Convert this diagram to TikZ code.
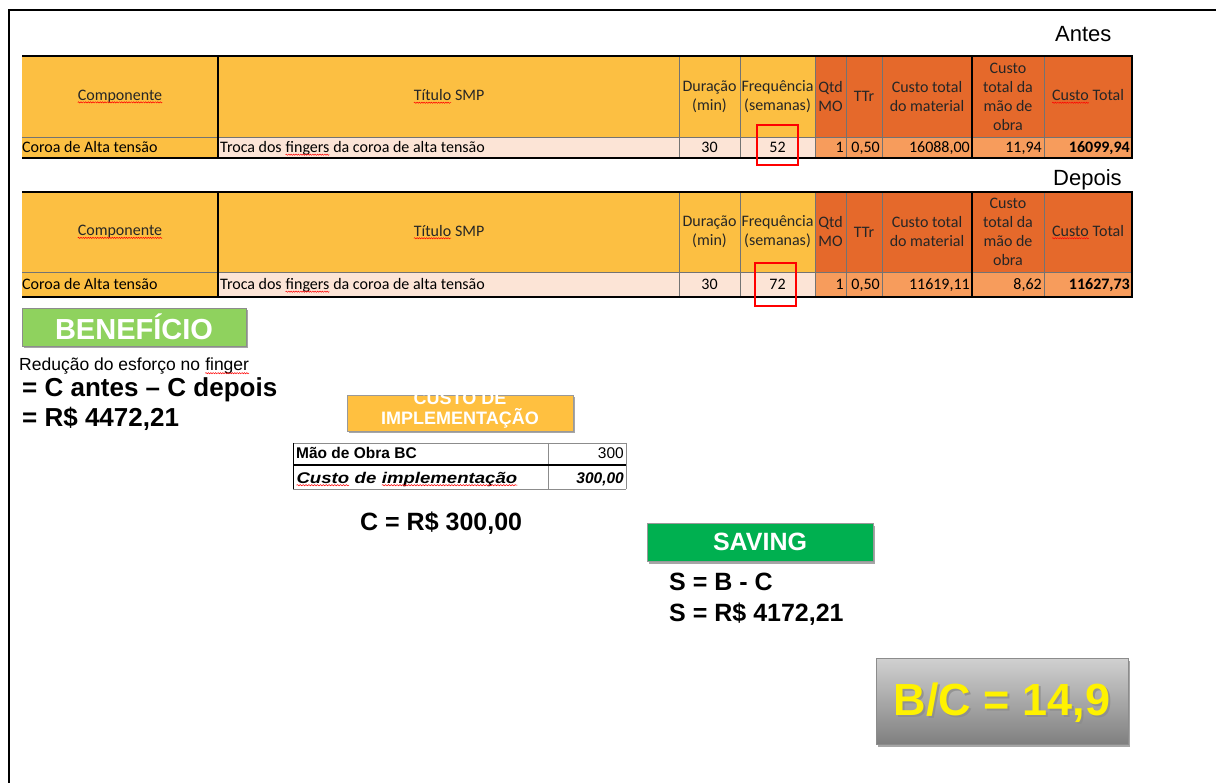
\documentclass[tikz,border=0pt]{standalone}
\usepackage{fontspec}
\usepackage{graphicx}
\setmainfont{Liberation Sans}
\newfontfamily\calfont{Carlito}
\usetikzlibrary{shadows,decorations.pathmorphing}
\definecolor{hdrY}{HTML}{FCBF42}
\definecolor{hdrO}{HTML}{E5692B}
\definecolor{rowP}{HTML}{FCE4D6}
\definecolor{rowO}{HTML}{F79C5C}
\definecolor{benG}{HTML}{8FD25E}
\definecolor{savG}{HTML}{00B050}
\definecolor{cusO}{HTML}{FFC040}
\newcommand\sqw[1]{\tikz[baseline=(sqt.base)]{\node[inner sep=0pt,outer sep=0pt,anchor=base,draw=none,fill=none,text height=,text depth=](sqt){#1};\draw[red,line width=0.5pt,decorate,decoration={snake,amplitude=0.6pt,segment length=2.4pt}]([yshift=-2.2pt]sqt.base west)--([yshift=-2.2pt]sqt.base east);}}
\tikzset{
  gridl/.style={draw=black!55,line width=0.8pt},
  gridk/.style={draw=black,line width=1.3pt},
  hd/.style={font=\calfont\fontsize{16}{19}\selectfont,align=center,inner sep=0pt,text=black!85},
  cellw/.style={font=\calfont\fontsize{16}{19}\selectfont,inner sep=0pt,anchor=base west},
  celle/.style={font=\calfont\fontsize{16}{19}\selectfont,inner sep=0pt,anchor=base east},
  cellc/.style={font=\calfont\fontsize{16}{19}\selectfont,inner sep=0pt,anchor=base},
  redbox/.style={draw=red,line width=2pt},
  shad/.style={drop shadow={shadow xshift=1.5pt,shadow yshift=-2.5pt,opacity=0.35,fill=black}},
  big/.style={font=\bfseries,inner sep=0pt,anchor=base west},
}
\newcommand\smptab[8]{%
 \fill[hdrY] (22,#2) rectangle (815,#3);
 \fill[hdrO] (815,#2) rectangle (1132,#3);
 \fill[hdrY] (22,#3) rectangle (218,#4);
 \fill[rowP] (218,#3) rectangle (815,#4);
 \fill[rowO] (815,#3) rectangle (1132,#4);
 \draw[gridl] (22,#3) -- (1132,#3);
 \foreach \c in {679,740,815,846,882,1044} \draw[gridl] (\c,#2) -- (\c,#4);
 \draw[gridk] (218,#2) -- (218,#4) (972,#2) -- (972,#4);
 \draw[gridk] (22,#2) -- (1132,#2) -- (1132,#4) -- (22,#4);
 \node[hd] (#1comp) at (120,{(#2+#3)/2}) {\sqw{Componente}};
 \node[hd] (#1tit) at (449,{(#2+#3)/2}) {\sqw{Título} SMP};
 \node[hd] (#1dur) at (709.5,{(#2+#3)/2}) {Duração\\(min)};
 \node[hd] (#1freq) at (777.5,{(#2+#3)/2}) {Frequência\\(semanas)};
 \node[hd] (#1qtd) at (830.5,{(#2+#3)/2}) {Qtd\\MO};
 \node[hd] (#1ttr) at (864,{(#2+#3)/2}) {TTr};
 \node[hd] (#1mat) at (927,{(#2+#3)/2}) {Custo total\\do material};
 \node[hd] (#1mao) at (1008,{(#2+#3)/2}) {Custo\\total da\\mão de\\obra};
 \node[hd] (#1tot) at (1088,{(#2+#3)/2}) {\sqw{Custo} Total};
 \node[cellw] (#1vcomp) at (22,{(#3+#4)/2+5}) {Coroa de Alta tensão};
 \node[cellw] (#1vtit) at (220,{(#3+#4)/2+5}) {Troca dos \sqw{fingers} da coroa de alta tensão};
 \node[cellc] (#1vdur) at (709.5,{(#3+#4)/2+5}) {30};
 \node[cellc] (#1vfreq) at (777.5,{(#3+#4)/2+5}) {#5};
 \node[celle] (#1vqtd) at (844,{(#3+#4)/2+5}) {1};
 \node[celle] (#1vttr) at (880,{(#3+#4)/2+5}) {0,50};
 \node[celle] (#1vmat) at (970,{(#3+#4)/2+5}) {#6};
 \node[celle] (#1vmao) at (1042,{(#3+#4)/2+5}) {#7};
 \node[celle] (#1vtot) at (1130,{(#3+#4)/2+5}) {\bfseries #8};
}
\begin{document}
\begin{tikzpicture}[x=1pt,y=-1pt]
\useasboundingbox (0,0) rectangle (1216,783);
\fill[white] (0,0) rectangle (1216,783);
% frame
\draw[black,line width=2pt] (9,783) -- (9,10) -- (1216,10);
% titles
\node[font=\fontsize{22}{26}\selectfont,inner sep=0pt,anchor=base west] (antes) at (1055,42) {Antes};
\node[font=\fontsize{22}{26}\selectfont,inner sep=0pt,anchor=base west] (depois) at (1053,186) {Depois};
% tables
\smptab{a}{56}{137}{158}{52}{16088,00}{11,94}{16099,94}
\smptab{b}{192}{272}{297}{72}{11619,11}{8,62}{11627,73}
\draw[redbox] (757,125) rectangle (798,165);
\draw[redbox] (755,263) rectangle (796,306);
% beneficio
\node[shad,fill=benG,draw=black!45,line width=0.8pt,minimum width=224pt,minimum height=38pt,inner sep=0pt,font=\bfseries\fontsize{29}{32}\selectfont,text=white] (ben) at (134,327) {BENEFÍCIO};
\node[inner sep=0pt,anchor=base west,font=\fontsize{17.5}{20}\selectfont] (red) at (19,371) {Redução do esforço no \sqw{finger}};
\node[big,font=\bfseries\fontsize{26}{30}\selectfont] (cac) at (22,397) {= C antes – C depois};
\node[big,font=\bfseries\fontsize{26}{30}\selectfont] (bval) at (22,427) {= R\$ 4472,21};
% custo de implementacao
\node[shad,fill=cusO,draw=black!40,line width=0.8pt,minimum width=226pt,minimum height=36pt,inner sep=0pt] (cus) at (460,413) {};
\begin{scope}
\clip (347,395) rectangle (573,431);
\node[inner sep=0pt,font=\bfseries\fontsize{18}{20}\selectfont,text=white,align=center] (custxt) at (460,410) {CUSTO DE\\IMPLEMENTAÇÃO};
\end{scope}
% small table
\draw[black!45,line width=0.8pt] (293,443) -- (626,443) (293,489) -- (626,489) (548,443) -- (548,489) (626,443) -- (626,489);
\draw[black,line width=1.2pt] (293,465) -- (626,465);
\draw[black,line width=1pt] (293,443) -- (293,489);
\node[inner sep=0pt,anchor=base west,font=\bfseries\fontsize{15.5}{18}\selectfont] (mob) at (296,459) {Mão de Obra BC};
\node[inner sep=0pt,anchor=base east,font=\fontsize{15.5}{18}\selectfont] (mobv) at (624,459) {300};
\node[inner sep=0pt,anchor=base west,font=\bfseries\itshape\fontsize{15.5}{18}\selectfont] (cimp) at (296,483) {\scalebox{1.2}[1]{\sqw{Custo} de \sqw{implementação}}};
\node[inner sep=0pt,anchor=base east,font=\bfseries\itshape\fontsize{15.5}{18}\selectfont] (cimpv) at (624,483) {300,00};
\node[big,font=\bfseries\fontsize{25}{30}\selectfont] (cval) at (360,530) {C = R\$ 300,00};
% saving
\node[shad,fill=savG,draw=black!40,line width=0.8pt,minimum width=226pt,minimum height=38pt,inner sep=0pt,font=\bfseries\fontsize{25}{28}\selectfont,text=white] (sav) at (760,542) {SAVING};
\node[big,font=\bfseries\fontsize{25}{30}\selectfont] (sbc) at (669,590) {S = B - C};
\node[big,font=\bfseries\fontsize{25}{30}\selectfont] (sval) at (669,621) {S = R\$ 4172,21};
% B/C
\node[shad,top color=black!18,bottom color=black!50,draw=black!45,line width=1pt,minimum width=252pt,minimum height=86pt,inner sep=0pt] (bc) at (1002,701) {};
\node[inner sep=0pt,font=\bfseries\fontsize{45}{50}\selectfont,text=black!45,opacity=0.8] (bcs) at (1004,705) {B/C = 14,9};
\node[inner sep=0pt,font=\bfseries\fontsize{45}{50}\selectfont,text=yellow] (bct) at (1002,703) {B/C = 14,9};
\end{tikzpicture}
\end{document}
